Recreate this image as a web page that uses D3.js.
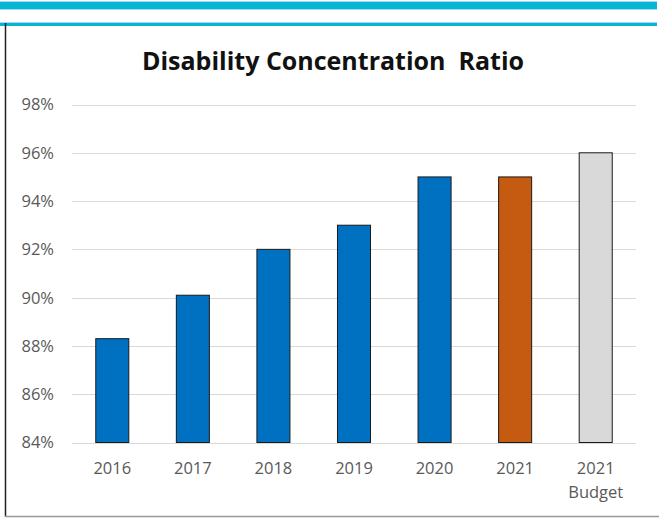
<!DOCTYPE html>
<html>
<head>
<meta charset="utf-8">
<script src="https://cdn.jsdelivr.net/npm/d3@7"></script>
<style>
  body { margin: 0; background: #fff; }
  svg { display: block; }
</style>
</head>
<body>
<svg width="659" height="518"></svg>
<script>
// chart data
const categories = ["2016", "2017", "2018", "2019", "2020", "2021", "2021\nBudget"];
const ratios = [88.3, 90.1, 92.0, 93.0, 95.0, 95.0, 96.0];
const barColors = ["#0070C0", "#0070C0", "#0070C0", "#0070C0", "#0070C0", "#C55A11", "#D9D9D9"];
const yTicks = [84, 86, 88, 90, 92, 94, 96, 98];

let svg = d3.select("svg");
let margin = {left: 72, right: 23, top: 104.5, bottom: 75.5};
let width = +svg.attr("width"), height = +svg.attr("height");

// frame decorations
svg.append("rect").attr("x", 0).attr("y", 1).attr("width", 657).attr("height", 8).attr("fill", "#06B5D3");
svg.append("rect").attr("x", 0).attr("y", 1).attr("width", 657).attr("height", 1).attr("fill", "#9FDFEB");
svg.append("rect").attr("x", 0).attr("y", 9).attr("width", 657).attr("height", 1).attr("fill", "#9FDFEB");
svg.append("rect").attr("x", 0).attr("y", 22).attr("width", 657).attr("height", 4).attr("fill", "#06B5D3");
svg.append("rect").attr("x", 0).attr("y", 22).attr("width", 657).attr("height", 1).attr("fill", "#9FDFEB");
svg.append("line").attr("x1", 5.5).attr("x2", 5.5).attr("y1", 23).attr("y2", 517).attr("stroke", "#222").attr("stroke-width", 1.5);
svg.append("line").attr("x1", 5).attr("x2", 659).attr("y1", 516.5).attr("y2", 516.5).attr("stroke", "#999").attr("stroke-width", 1.5);

let x = d3.scaleBand()
  .domain(categories)
  .range([margin.left, width - margin.right])
  .paddingInner(0.59).paddingOuter(0.295);

let y = d3.scaleLinear()
  .domain([84, 98])
  .range([height - margin.bottom, margin.top]);

// gridlines
svg.append("g")
  .selectAll("line")
  .data(yTicks)
  .enter().append("line")
    .attr("x1", margin.left).attr("x2", width - margin.right)
    .attr("y1", d => Math.round(y(d)) + 0.5).attr("y2", d => Math.round(y(d)) + 0.5)
    .attr("stroke", "#D9D9D9").attr("stroke-width", 1);

// y labels
svg.append("g")
  .selectAll("text")
  .data(yTicks)
  .enter().append("text")
    .attr("x", 54).attr("y", d => y(d))
    .attr("dy", "0.36em")
    .attr("text-anchor", "end")
    .attr("font-family", "'Open Sans', sans-serif")
    .attr("font-size", 16.5)
    .attr("fill", "#595959")
    .text(d => d + "%");

// bars
svg.append("g")
  .selectAll("rect")
  .data(ratios)
  .enter().append("rect")
    .attr("x", (d, i) => x(categories[i]))
    .attr("y", d => y(d))
    .attr("width", x.bandwidth())
    .attr("height", d => y(84) - y(d))
    .attr("fill", (d, i) => barColors[i])
    .attr("stroke", "#1a1a1a")
    .attr("stroke-width", 1);

// x labels
let xl = svg.append("g")
  .selectAll("text")
  .data(categories)
  .enter().append("text")
    .attr("x", d => x(d) + x.bandwidth() / 2)
    .attr("y", 474)
    .attr("text-anchor", "middle")
    .attr("font-family", "'Open Sans', sans-serif")
    .attr("font-size", 16.5)
    .attr("fill", "#595959");
xl.selectAll("tspan")
  .data(d => d.split("\n"))
  .enter().append("tspan")
    .attr("x", function() { return this.parentNode.getAttribute("x"); })
    .attr("dy", (d, i) => i ? 24 : 0)
    .text(d => d);

// title
svg.append("text")
  .attr("x", 333).attr("y", 70)
  .attr("text-anchor", "middle")
  .attr("font-family", "'Open Sans', sans-serif")
  .attr("font-weight", "bold")
  .attr("font-size", 25)
  .attr("fill", "#111")
  .style("white-space", "pre")
  .text("Disability Concentration  Ratio");
</script>
</body>
</html>
